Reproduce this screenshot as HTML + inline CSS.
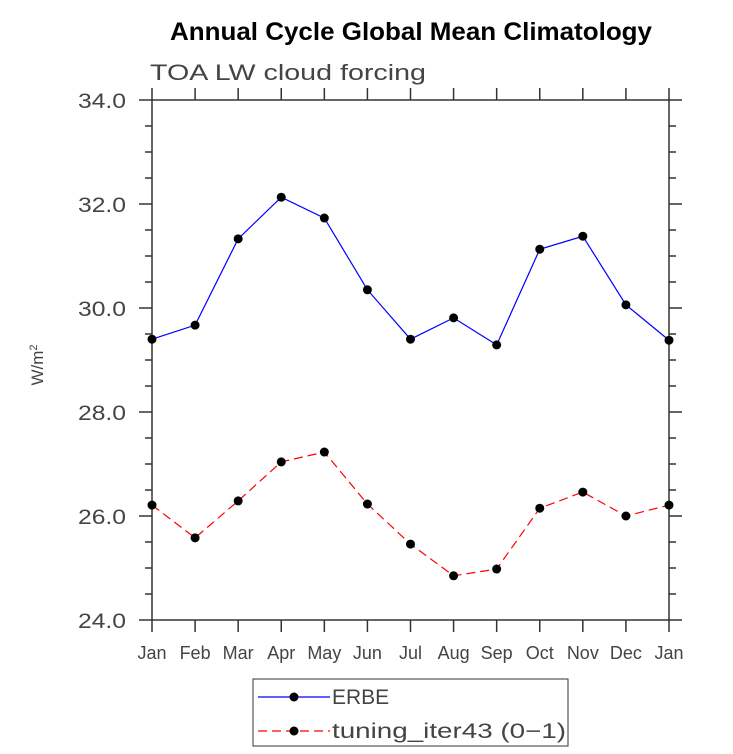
<!DOCTYPE html>
<html><head><meta charset="utf-8"><style>
body{margin:0;background:#fff}
svg{display:block;font-family:"Liberation Sans",sans-serif}
</style></head><body>
<svg id="chart" width="733" height="754">
<text x="170" y="40" textLength="482" lengthAdjust="spacingAndGlyphs" font-weight="bold" font-size="25">Annual Cycle Global Mean Climatology</text>
<text x="150" y="80" textLength="276" lengthAdjust="spacingAndGlyphs" font-size="22" fill="#444">TOA LW cloud forcing</text>
<text transform="translate(43,365) rotate(-90)" text-anchor="middle" font-size="17" fill="#444">W/m<tspan dy="-6" font-size="11">2</tspan></text>
<g id="axes"></g>
<g id="series"></g>
<g>
<rect x="253" y="679" width="315" height="67" fill="none" stroke="#333" stroke-width="1"/>
<line x1="258" y1="697" x2="330" y2="697" stroke="#00f" stroke-width="1.2"/>
<circle cx="294" cy="697" r="4.5" fill="#000"/>
<text x="332" y="704" font-size="21" fill="#444">ERBE</text>
<line x1="258" y1="731" x2="330" y2="731" stroke="#f00" stroke-width="1.2" stroke-dasharray="9,5"/>
<circle cx="294" cy="731" r="4.5" fill="#000"/>
<text x="332" y="738" textLength="234" lengthAdjust="spacingAndGlyphs" font-size="21" fill="#444">tuning_iter43 (0−1)</text>
</g>
</svg>
<script>
const months = ["Jan","Feb","Mar","Apr","May","Jun","Jul","Aug","Sep","Oct","Nov","Dec","Jan"];
const erbe = [29.40,29.67,31.33,32.13,31.73,30.35,29.40,29.81,29.29,31.13,31.38,30.06,29.38];
const tuning = [26.21,25.58,26.29,27.04,27.23,26.23,25.46,24.85,24.98,26.15,26.46,26.00,26.21];
const yTicks = ["24.0","26.0","28.0","30.0","32.0","34.0"];
const L=152,R=669,T=100,B=620,YMIN=24,YMAX=34;
const xs=i=>L+(R-L)*i/(months.length-1);
const ys=v=>B-(v-YMIN)/(YMAX-YMIN)*(B-T);
const NS="http://www.w3.org/2000/svg";
function mk(tag,attrs,parent){const e=document.createElementNS(NS,tag);for(const k in attrs)e.setAttribute(k,attrs[k]);parent.appendChild(e);return e;}
const ax=document.getElementById('axes');
const frame=mk('rect',{x:L,y:T,width:R-L,height:B-T,fill:'none',stroke:'#333','stroke-width':1.5},ax);


const st={stroke:'#333','stroke-width':1.5};
for(let v=YMIN;v<=YMAX+1e-9;v+=0.5){
  const y=ys(v);const major=Math.abs(v/2-Math.round(v/2))<1e-9;
  const len=major?13:7;
  mk('line',Object.assign({x1:L-len,y1:y,x2:L,y2:y},st),ax);
  mk('line',Object.assign({x1:R,y1:y,x2:R+len,y2:y},st),ax);
}
yTicks.forEach(t=>{
  const tx=mk('text',{x:126,y:ys(parseFloat(t))+8,'text-anchor':'end','font-size':21,fill:'#444',textLength:48,lengthAdjust:'spacingAndGlyphs'},ax);
  tx.textContent=t;
  
  
});
months.forEach((m,i)=>{
  const x=xs(i);
  mk('line',Object.assign({x1:x,y1:B,x2:x,y2:B+12},st),ax);
  mk('line',Object.assign({x1:x,y1:T-12,x2:x,y2:T},st),ax);
  const tx=mk('text',{x:x,y:B+39,'text-anchor':'middle','font-size':18,fill:'#444'},ax);
  tx.textContent=m;
  
  
});
const sg=document.getElementById('series');
function draw(data,color,dash,name){
  const p=mk('polyline',{points:data.map((v,i)=>xs(i)+','+ys(v)).join(' '),fill:'none',stroke:color,'stroke-width':1.2,'stroke-dasharray':dash},sg);
  
  
  data.forEach((v,i)=>{
    const c=mk('circle',{cx:xs(i),cy:ys(v),r:4.5,fill:'#000'},sg);
    
    
  });
}
draw(erbe,'#00f','none','erbe');
draw(tuning,'#f00','9,5','tuning');
</script>
</body></html>
